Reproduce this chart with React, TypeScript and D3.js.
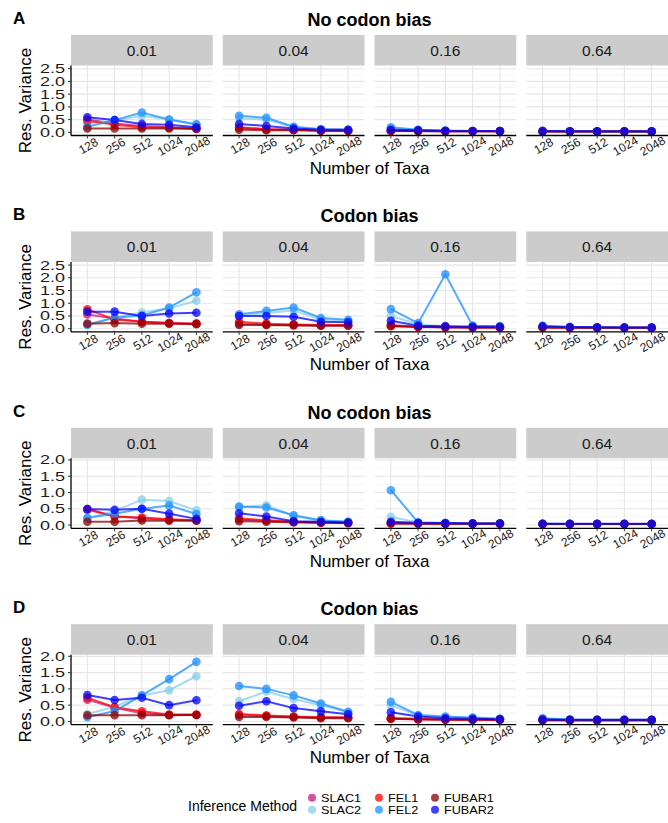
import React from 'react';
import * as d3 from 'd3';

const METHODS = ['SLAC1', 'SLAC2', 'FEL1', 'FEL2', 'FUBAR1', 'FUBAR2'];
const METHOD_COLORS = ['#c8157f', '#87cdea', '#ff0000', '#1e8fff', '#8b0000', '#0000ff'];
const TAXA = ['128', '256', '512', '1024', '2048'];
const RATES = ['0.01', '0.04', '0.16', '0.64'];
const ROW_LABELS = ['A', 'B', 'C', 'D'];
const ROW_TITLES = ['No codon bias', 'Codon bias', 'No codon bias', 'Codon bias'];

// each method: one array of 5 values (per taxa count) for each rate panel
const rowA: Record<string, number[][]> = {
  SLAC1: [[0.5, 0.35, 0.25, 0.2, 0.15], [0.2, 0.12, 0.1, 0.07, 0.06], [0.07, 0.05, 0.04, 0.04, 0.04], [0.04, 0.03, 0.03, 0.03, 0.03]],
  SLAC2: [[0.35, 0.45, 0.65, 0.5, 0.3], [0.55, 0.5, 0.2, 0.12, 0.1], [0.15, 0.1, 0.06, 0.05, 0.05], [0.05, 0.04, 0.03, 0.03, 0.03]],
  FEL1: [[0.45, 0.3, 0.2, 0.18, 0.15], [0.18, 0.12, 0.1, 0.07, 0.06], [0.06, 0.05, 0.04, 0.04, 0.04], [0.03, 0.03, 0.03, 0.03, 0.03]],
  FEL2: [[0.22, 0.48, 0.78, 0.5, 0.32], [0.65, 0.57, 0.22, 0.12, 0.1], [0.2, 0.1, 0.06, 0.05, 0.05], [0.06, 0.04, 0.03, 0.03, 0.03]],
  FUBAR1: [[0.15, 0.15, 0.15, 0.15, 0.13], [0.1, 0.08, 0.08, 0.06, 0.06], [0.05, 0.05, 0.04, 0.04, 0.04], [0.03, 0.03, 0.03, 0.03, 0.03]],
  FUBAR2: [[0.59, 0.48, 0.33, 0.3, 0.2], [0.33, 0.25, 0.15, 0.1, 0.1], [0.1, 0.08, 0.06, 0.05, 0.05], [0.05, 0.04, 0.04, 0.04, 0.04]],
};

const rowB: Record<string, number[][]> = {
  SLAC1: [[0.56, 0.4, 0.27, 0.22, 0.2], [0.2, 0.16, 0.15, 0.13, 0.13], [0.15, 0.08, 0.06, 0.05, 0.05], [0.06, 0.05, 0.04, 0.04, 0.04]],
  SLAC2: [[0.17, 0.45, 0.64, 0.8, 1.1], [0.5, 0.62, 0.72, 0.35, 0.3], [0.5, 0.18, 0.1, 0.1, 0.08], [0.08, 0.06, 0.05, 0.05, 0.05]],
  FEL1: [[0.76, 0.36, 0.27, 0.22, 0.2], [0.27, 0.2, 0.17, 0.15, 0.15], [0.12, 0.08, 0.06, 0.05, 0.05], [0.05, 0.04, 0.04, 0.04, 0.04]],
  FEL2: [[0.15, 0.43, 0.52, 0.83, 1.43], [0.57, 0.7, 0.83, 0.42, 0.35], [0.77, 0.22, 2.14, 0.12, 0.1], [0.11, 0.07, 0.05, 0.05, 0.05]],
  FUBAR1: [[0.2, 0.22, 0.2, 0.2, 0.18], [0.15, 0.15, 0.13, 0.12, 0.12], [0.1, 0.07, 0.06, 0.05, 0.05], [0.05, 0.04, 0.04, 0.04, 0.04]],
  FUBAR2: [[0.67, 0.67, 0.5, 0.6, 0.63], [0.5, 0.5, 0.47, 0.27, 0.25], [0.31, 0.12, 0.1, 0.08, 0.08], [0.1, 0.07, 0.06, 0.05, 0.05]],
};

const rowC: Record<string, number[][]> = {
  SLAC1: [[0.49, 0.27, 0.2, 0.16, 0.14], [0.17, 0.13, 0.1, 0.08, 0.07], [0.07, 0.05, 0.04, 0.04, 0.04], [0.03, 0.03, 0.03, 0.03, 0.03]],
  SLAC2: [[0.21, 0.43, 0.78, 0.74, 0.45], [0.55, 0.61, 0.28, 0.13, 0.1], [0.25, 0.08, 0.06, 0.05, 0.05], [0.04, 0.03, 0.03, 0.03, 0.03]],
  FEL1: [[0.48, 0.26, 0.23, 0.18, 0.15], [0.2, 0.15, 0.1, 0.08, 0.07], [0.05, 0.05, 0.04, 0.04, 0.04], [0.03, 0.03, 0.03, 0.03, 0.03]],
  FEL2: [[0.22, 0.35, 0.5, 0.6, 0.34], [0.57, 0.54, 0.3, 0.15, 0.1], [1.07, 0.08, 0.06, 0.05, 0.05], [0.04, 0.03, 0.03, 0.03, 0.03]],
  FUBAR1: [[0.1, 0.1, 0.14, 0.13, 0.13], [0.12, 0.1, 0.08, 0.07, 0.06], [0.05, 0.04, 0.04, 0.04, 0.04], [0.03, 0.03, 0.03, 0.03, 0.03]],
  FUBAR2: [[0.49, 0.47, 0.5, 0.35, 0.19], [0.36, 0.26, 0.12, 0.1, 0.08], [0.1, 0.07, 0.06, 0.05, 0.05], [0.04, 0.04, 0.04, 0.04, 0.04]],
};

const rowD: Record<string, number[][]> = {
  SLAC1: [[0.67, 0.42, 0.25, 0.2, 0.2], [0.2, 0.17, 0.14, 0.12, 0.12], [0.1, 0.07, 0.06, 0.05, 0.05], [0.05, 0.04, 0.04, 0.04, 0.04]],
  SLAC2: [[0.23, 0.45, 0.8, 0.96, 1.39], [0.62, 0.92, 0.69, 0.5, 0.28], [0.5, 0.18, 0.12, 0.1, 0.08], [0.08, 0.05, 0.04, 0.04, 0.04]],
  FEL1: [[0.73, 0.44, 0.31, 0.21, 0.21], [0.23, 0.18, 0.15, 0.13, 0.12], [0.1, 0.08, 0.06, 0.05, 0.05], [0.04, 0.04, 0.04, 0.04, 0.04]],
  FEL2: [[0.13, 0.32, 0.8, 1.3, 1.83], [1.09, 1.0, 0.8, 0.55, 0.3], [0.6, 0.2, 0.15, 0.12, 0.08], [0.1, 0.06, 0.05, 0.05, 0.05]],
  FUBAR1: [[0.19, 0.19, 0.19, 0.19, 0.2], [0.14, 0.14, 0.12, 0.1, 0.1], [0.08, 0.06, 0.05, 0.05, 0.05], [0.04, 0.04, 0.04, 0.04, 0.04]],
  FUBAR2: [[0.81, 0.66, 0.73, 0.5, 0.65], [0.48, 0.62, 0.41, 0.31, 0.22], [0.28, 0.15, 0.1, 0.08, 0.07], [0.06, 0.05, 0.05, 0.05, 0.05]],
};

const ROW_DATA = [rowA, rowB, rowC, rowD];
const ROW_YDOMAINS: [number, number][] = [[-0.125, 2.625], [-0.125, 2.625], [-0.1, 2.05], [-0.1, 2.05]];
const ROW_YTICKS = [[0, 0.5, 1, 1.5, 2, 2.5], [0, 0.5, 1, 1.5, 2, 2.5], [0, 0.5, 1, 1.5, 2], [0, 0.5, 1, 1.5, 2]];

const W = 668;
const H = 823;
const FONT = "'Liberation Sans', Arial, Helvetica, sans-serif";
const ALPHA = 0.75;

const plotLeft = 71;
const plotRight = 668;
const panelGap = 10;
const panelW = (plotRight - plotLeft - 3 * panelGap) / 4;
const rowStep = 196.4;
const stripH = 30.5;
const panelH = 70;

const Row: React.FC<{ idx: number }> = ({ idx }) => {
  const top = 35 + idx * rowStep;
  const data = ROW_DATA[idx];
  const y = d3.scaleLinear().domain(ROW_YDOMAINS[idx]).range([top + stripH + panelH, top + stripH]);
  const yMinor = d3.range(0.25, ROW_YDOMAINS[idx][1], 0.5);
  const bottom = top + stripH + panelH;

  return (
    <g>
      <text x={13} y={top - 11} fontFamily={FONT} fontSize={17} fontWeight="bold">{ROW_LABELS[idx]}</text>
      <text x={(plotLeft + plotRight) / 2} y={top - 9} textAnchor="middle" fontFamily={FONT} fontSize={18} fontWeight="bold">
        {ROW_TITLES[idx]}
      </text>
      {RATES.map((rate, p) => {
        const x0 = plotLeft + p * (panelW + panelGap);
        const x = d3.scalePoint<string>().domain(TAXA).range([x0, x0 + panelW]).padding(0.6);
        const line = d3.line<number>().x((_, i) => x(TAXA[i])!).y(v => y(v));
        return (
          <g key={rate}>
            <rect x={x0} y={top} width={panelW} height={stripH} fill="#cccccc" />
            <text x={x0 + panelW / 2} y={top + stripH / 2 + 5.5} textAnchor="middle" fontFamily={FONT} fontSize={15.5} fill="#1a1a1a">
              {rate}
            </text>
            {yMinor.map(v => (
              <line key={'m' + v} x1={x0} x2={x0 + panelW} y1={y(v)} y2={y(v)} stroke="#f2f2f2" strokeWidth={0.8} />
            ))}
            {ROW_YTICKS[idx].map(v => (
              <line key={'g' + v} x1={x0} x2={x0 + panelW} y1={y(v)} y2={y(v)} stroke="#e6e6e6" strokeWidth={1.1} />
            ))}
            {TAXA.map(t => (
              <line key={'v' + t} x1={x(t)} x2={x(t)} y1={top + stripH} y2={bottom} stroke="#e6e6e6" strokeWidth={1.1} />
            ))}
            {METHODS.map((m, mi) => (
              <path key={'l' + m} d={line(data[m][p]) || ''} fill="none" stroke={METHOD_COLORS[mi]} strokeOpacity={ALPHA} strokeWidth={2} />
            ))}
            {METHODS.map((m, mi) =>
              data[m][p].map((v, i) => (
                <circle key={m + i} cx={x(TAXA[i])} cy={y(v)} r={4.3} fill={METHOD_COLORS[mi]} fillOpacity={ALPHA} />
              ))
            )}
            <line x1={x0} x2={x0 + panelW} y1={bottom} y2={bottom} stroke="#000" strokeWidth={1.3} />
            {TAXA.map(t => (
              <g key={'t' + t}>
                <line x1={x(t)} x2={x(t)} y1={bottom} y2={bottom + 3} stroke="#333" strokeWidth={1} />
                <text
                  transform={`translate(${x(t)! + 1},${bottom + 10.5}) rotate(-30)`}
                  textAnchor="middle"
                  dominantBaseline="central"
                  fontFamily={FONT}
                  fontSize={12}
                  fill="#1a1a1a"
                >
                  {t}
                </text>
              </g>
            ))}
          </g>
        );
      })}
      <line x1={plotLeft} x2={plotLeft} y1={top + stripH} y2={bottom} stroke="#000" strokeWidth={1.3} />
      {ROW_YTICKS[idx].map(v => (
        <g key={'yt' + v}>
          <line x1={plotLeft - 3} x2={plotLeft} y1={y(v)} y2={y(v)} stroke="#333" strokeWidth={1} />
          <text
            transform={`translate(${plotLeft - 6},${y(v)}) scale(1.2,0.85)`}
            textAnchor="end"
            dominantBaseline="central"
            fontFamily={FONT}
            fontSize={15}
            fill="#1a1a1a"
          >
            {d3.format('.1f')(v)}
          </text>
        </g>
      ))}
      <text
        transform={`translate(31,${top + stripH + panelH / 2}) rotate(-90)`}
        textAnchor="middle"
        fontFamily={FONT}
        fontSize={17}
      >
        Res. Variance
      </text>
      <text x={(plotLeft + plotRight) / 2} y={top + 139} textAnchor="middle" fontFamily={FONT} fontSize={17}>
        Number of Taxa
      </text>
    </g>
  );
};

const Legend: React.FC = () => {
  const colX = [312, 379, 435];
  const rowY = [797.8, 809.8];
  return (
    <g>
      <text x={188} y={806} dominantBaseline="central" fontFamily={FONT} fontSize={14}>Inference Method</text>
      {METHODS.map((m, i) => {
        const cx = colX[Math.floor(i / 2)];
        const cy = rowY[i % 2];
        return (
          <g key={m}>
            <circle cx={cx} cy={cy} r={4} fill={METHOD_COLORS[i]} fillOpacity={ALPHA} />
            <text
              transform={`translate(${cx + 9},${cy}) scale(1.15,1)`}
              dominantBaseline="central"
              fontFamily={FONT}
              fontSize={11}
            >
              {m}
            </text>
          </g>
        );
      })}
    </g>
  );
};

export default function App() {
  return (
    <svg width={W} height={H} style={{ position: 'absolute', left: 0, top: 0, background: '#fff' }}>
      <rect width={W} height={H} fill="#fff" />
      {ROW_LABELS.map((_, i) => (
        <Row key={i} idx={i} />
      ))}
      <Legend />
    </svg>
  );
}
